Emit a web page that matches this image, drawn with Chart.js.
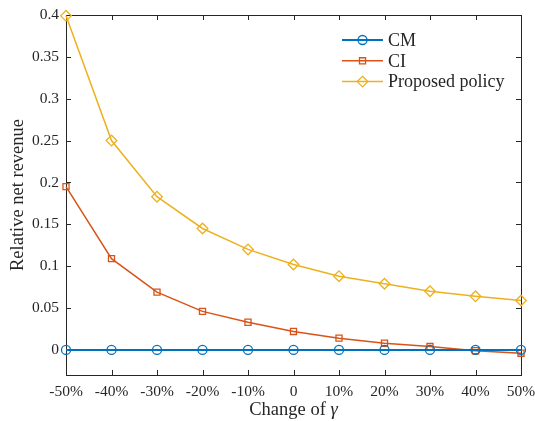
<!DOCTYPE html>
<html>
<head>
<meta charset="utf-8">
<script src="https://cdn.jsdelivr.net/npm/chart.js@4/dist/chart.umd.min.js"></script>
<style>
  html, body { margin: 0; padding: 0; background: #ffffff; }
  #wrap { width: 535px; height: 421px; }
</style>
</head>
<body>
<div id="wrap"><canvas id="c" width="535" height="421"></canvas></div>
<script>
// Relative net revenue for each change of gamma
const categories = ['-50%', '-40%', '-30%', '-20%', '-10%', '0', '10%', '20%', '30%', '40%', '50%'];
const cmValues = [0, 0, 0, 0, 0, 0, 0, 0, 0, 0, 0];
const ciValues = [0.195, 0.109, 0.069, 0.046, 0.033, 0.022, 0.014, 0.008, 0.004, -0.001, -0.004];
const proposedValues = [0.399, 0.250, 0.183, 0.145, 0.120, 0.102, 0.088, 0.079, 0.070, 0.064, 0.059];
const yTickValues = [0, 0.05, 0.1, 0.15, 0.2, 0.25, 0.3, 0.35, 0.4];
const seriesNames = ['CM', 'CI', 'Proposed policy'];

const SERIF = '"Liberation Serif", "Times New Roman", serif';
const AXIS_COLOR = '#262626';

function drawMarker(ctx, style, x, y, r) {
  ctx.beginPath();
  if (style === 'circle') {
    ctx.arc(x, y, r, 0, Math.PI * 2);
  } else if (style === 'rect') {
    const h = r * Math.SQRT1_2;
    ctx.rect(x - h, y - h, 2 * h, 2 * h);
  } else {
    ctx.moveTo(x, y - r);
    ctx.lineTo(x + r, y);
    ctx.lineTo(x, y + r);
    ctx.lineTo(x - r, y);
    ctx.closePath();
  }
  ctx.stroke();
}

// Axes box with inward ticks on all four sides, and the x-axis title
const boxPlugin = {
  id: 'boxPlugin',
  beforeDatasetsDraw(chart) {
    const { ctx, chartArea: a, scales } = chart;
    ctx.save();
    ctx.strokeStyle = AXIS_COLOR;
    ctx.lineWidth = 1;
    ctx.strokeRect(Math.round(a.left) + 0.5, Math.round(a.top) + 0.5,
                   Math.round(a.right - a.left), Math.round(a.bottom - a.top));
    const tl = 5;
    ctx.beginPath();
    scales.x.ticks.forEach((t, i) => {
      const px = Math.round(scales.x.getPixelForTick(i)) + 0.5;
      ctx.moveTo(px, a.bottom); ctx.lineTo(px, a.bottom - tl);
      ctx.moveTo(px, a.top); ctx.lineTo(px, a.top + tl);
    });
    scales.y.ticks.forEach((t) => {
      const py = Math.round(scales.y.getPixelForValue(t.value)) + 0.5;
      ctx.moveTo(a.left, py); ctx.lineTo(a.left + tl, py);
      ctx.moveTo(a.right, py); ctx.lineTo(a.right - tl, py);
    });
    ctx.stroke();

    // x-axis title: "Change of" upright, gamma italic
    ctx.fillStyle = AXIS_COLOR;
    ctx.textBaseline = 'alphabetic';
    const part1 = 'Change of ';
    const part2 = 'γ';
    ctx.font = '18.5px ' + SERIF;
    const w1 = ctx.measureText(part1).width;
    ctx.font = 'italic 18.5px ' + SERIF;
    const w2 = ctx.measureText(part2).width;
    const cx = (a.left + a.right) / 2;
    const x0 = cx - (w1 + w2) / 2;
    const by = 415;
    ctx.font = '18.5px ' + SERIF;
    ctx.textAlign = 'left';
    ctx.fillText(part1, x0, by);
    ctx.font = 'italic 18.5px ' + SERIF;
    ctx.fillText(part2, x0 + w1, by);
    ctx.restore();
  }
};

// Legend in the upper right of the plot: line sample with marker, then name
const legendPlugin = {
  id: 'legendPlugin',
  afterDraw(chart) {
    const { ctx } = chart;
    ctx.save();
    const x0 = 342, x1 = 383, tx = 388, y0 = 40, dy = 20.8;
    chart.data.datasets.forEach((ds, i) => {
      const y = y0 + i * dy;
      ctx.strokeStyle = ds.borderColor;
      ctx.lineWidth = ds.borderWidth;
      ctx.beginPath();
      ctx.moveTo(x0, y); ctx.lineTo(x1, y);
      ctx.stroke();
      ctx.lineWidth = 1.3;
      drawMarker(ctx, ds.pointStyle, (x0 + x1) / 2, y, ds.pointRadius);
      ctx.fillStyle = AXIS_COLOR;
      ctx.font = '18px ' + SERIF;
      ctx.textAlign = 'left';
      ctx.textBaseline = 'middle';
      ctx.fillText(seriesNames[i], tx, y + 1);
    });
    ctx.restore();
  }
};

const colors = ['#0072BD', '#D95319', '#EDB120'];
const styles = ['circle', 'rect', 'rectRot'];
const radii = [4.5, 4.3, 5.3];
const seriesData = [cmValues, ciValues, proposedValues];

new Chart(document.getElementById('c'), {
  type: 'line',
  data: {
    labels: categories,
    datasets: seriesData.map((vals, i) => ({
      label: seriesNames[i],
      data: vals,
      borderColor: colors[i],
      backgroundColor: 'rgba(0,0,0,0)',
      borderWidth: i === 0 ? 2 : 1.5,
      pointStyle: styles[i],
      pointRadius: radii[i],
      pointBorderWidth: 1.3,
      pointBackgroundColor: 'rgba(0,0,0,0)',
      pointBorderColor: colors[i],
      tension: 0,
      clip: false
    }))
  },
  options: {
    responsive: false,
    animation: false,
    devicePixelRatio: 1,
    layout: { padding: { top: 15, right: 14, left: 0, bottom: 0 } },
    plugins: { legend: { display: false }, tooltip: { enabled: false } },
    scales: {
      x: {
        type: 'category',
        offset: false,
        grid: { display: false, drawTicks: false },
        border: { display: false },
        ticks: {
          color: AXIS_COLOR,
          font: { family: SERIF, size: 15.5 },
          padding: 8,
          maxRotation: 0,
          autoSkip: false
        },
        afterFit(scale) {
          scale.height = 46;
          scale.paddingLeft = 0;
          scale.paddingRight = 0;
        }
      },
      y: {
        type: 'linear',
        min: -0.03,
        max: 0.4,
        grid: { display: false, drawTicks: false },
        border: { display: false },
        afterBuildTicks(scale) { scale.ticks = yTickValues.map(v => ({ value: v })); },
        ticks: {
          color: AXIS_COLOR,
          font: { family: SERIF, size: 15.5 },
          padding: 7,
          callback: (v) => String(v)
        },
        title: {
          display: true,
          text: 'Relative net revenue',
          color: AXIS_COLOR,
          font: { family: SERIF, size: 18.5 },
          padding: { top: 7, bottom: 0 }
        },
        afterFit(scale) {
          scale.width = 66;
          scale.paddingTop = 0;
          scale.paddingBottom = 0;
        }
      }
    }
  },
  plugins: [boxPlugin, legendPlugin]
});
</script>
</body>
</html>
